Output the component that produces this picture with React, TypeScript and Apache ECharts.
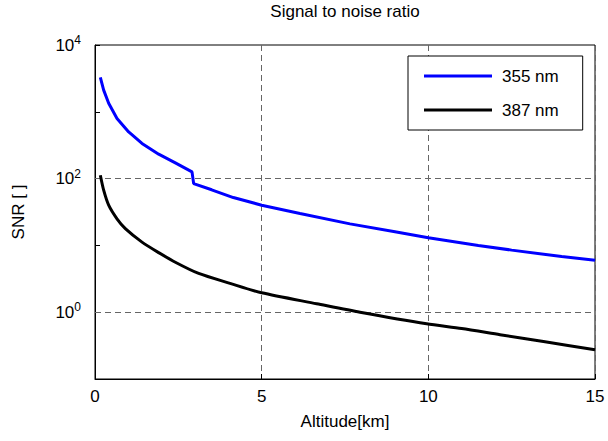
import React, { useEffect, useRef } from "react";
import * as echarts from "echarts";

const titleText = "Signal to noise ratio";
const xName = "Altitude[km]";
const yName = "SNR [ ]";
const seriesNames = ["355 nm", "387 nm"];

const xBlue = [0.16, 0.26, 0.41, 0.66, 1.01, 1.41, 1.91, 2.41, 2.91, 2.96, 3.5, 4.15, 5, 6.15, 7.65, 9, 10, 11.5, 12.5, 14, 15];
const yBlue = [3280, 2110, 1340, 795, 500, 336, 232, 172, 126, 84, 68, 52, 40, 30, 21, 16, 13, 10, 8.5, 6.8, 6.0];

const xBlack = [0.16, 0.26, 0.41, 0.66, 0.91, 1.41, 1.91, 2.41, 3.11, 4.05, 5, 6.65, 7.95, 9.95, 11, 12.15, 13.5, 15];
const yBlack = [112, 67, 40, 25, 17.8, 11.2, 7.8, 5.6, 3.8, 2.7, 1.95, 1.34, 1.0, 0.67, 0.57, 0.46, 0.36, 0.275];

const xTicks = [0, 5, 10, 15];
const yGridValues = [1, 100];

const FONT = "'Liberation Sans', Arial, sans-serif";

export default function App() {
  const ref = useRef<HTMLDivElement>(null);
  useEffect(() => {
    if (!ref.current) return;
    const chart = echarts.init(ref.current, null, { renderer: "svg" });
    const zip = (xs: number[], ys: number[]) => xs.map((x, i) => [x, ys[i]]);
    chart.setOption({
      animation: false,
      backgroundColor: "#fff",
      textStyle: { fontFamily: FONT, color: "#000" },
      title: {
        text: titleText,
        left: 345,
        top: 3,
        padding: 0,
        textAlign: "center",
        textStyle: { fontFamily: FONT, fontSize: 17, fontWeight: "normal", color: "#000" },
      },
      legend: {
        orient: "vertical",
        left: 408,
        top: 56,
        padding: [10, 24, 10, 16],
        itemWidth: 68,
        itemHeight: 3,
        itemGap: 14,
        icon: "rect",
        borderColor: "#000",
        borderWidth: 1,
        borderRadius: 0,
        backgroundColor: "#fff",
        textStyle: { fontFamily: FONT, fontSize: 17, lineHeight: 20, color: "#000", padding: [0, 0, 0, 5] },
        data: seriesNames,
      },
      grid: {
        left: 95,
        right: 13,
        top: 45,
        bottom: 62,
        show: true,
        borderColor: "#000",
        borderWidth: 1,
        backgroundColor: "#fff",
      },
      xAxis: {
        type: "value",
        min: xTicks[0],
        max: xTicks[xTicks.length - 1],
        interval: 5,
        name: xName,
        nameLocation: "middle",
        nameGap: 34,
        nameTextStyle: { fontFamily: FONT, fontSize: 17, color: "#000" },
        axisLine: { show: true, lineStyle: { color: "#000", width: 1 } },
        axisTick: { show: true, inside: true, length: 5, lineStyle: { color: "#000" } },
        axisLabel: { fontFamily: FONT, fontSize: 17, color: "#000", margin: 9 },
        splitLine: { show: true, lineStyle: { color: "#666", type: [6, 4], width: 1 } },
      },
      yAxis: {
        type: "log",
        logBase: 10,
        min: 0.1,
        max: 10000,
        name: yName,
        nameLocation: "middle",
        nameGap: 68,
        nameTextStyle: { fontFamily: FONT, fontSize: 17, color: "#000" },
        axisLine: { show: true, lineStyle: { color: "#000", width: 1 } },
        axisTick: { show: true, inside: true, length: 5, lineStyle: { color: "#000" } },
        splitLine: { show: false },
        axisLabel: {
          margin: 14,
          color: "#000",
          formatter: (v: number) => {
            const e = Math.round(Math.log10(v));
            if (e % 2 !== 0) return "";
            return `{b|10}{s|${e}}`;
          },
          rich: {
            b: { fontFamily: FONT, fontSize: 17, color: "#000" },
            s: { fontFamily: FONT, fontSize: 12, color: "#000", verticalAlign: "bottom", padding: [0, 0, 10, 0] },
          },
        },
      },
      series: [
        {
          name: seriesNames[0],
          type: "line",
          data: zip(xBlue, yBlue),
          showSymbol: false,
          symbol: "none",
          smooth: false,
          lineStyle: { color: "#0000ff", width: 3 },
          itemStyle: { color: "#0000ff" },
          markLine: {
            silent: true,
            symbol: "none",
            label: { show: false },
            lineStyle: { color: "#666", type: [6, 4], width: 1 },
            data: yGridValues.map((v) => ({ yAxis: v })),
            z: 1,
          },
          z: 3,
        },
        {
          name: seriesNames[1],
          type: "line",
          data: zip(xBlack, yBlack),
          showSymbol: false,
          symbol: "none",
          smooth: 0.25,
          lineStyle: { color: "#000", width: 3 },
          itemStyle: { color: "#000" },
          z: 3,
        },
      ],
    });
    return () => chart.dispose();
  }, []);
  return (
    <div
      ref={ref}
      style={{ position: "fixed", left: 0, top: 0, width: 608, height: 441 }}
    />
  );
}
